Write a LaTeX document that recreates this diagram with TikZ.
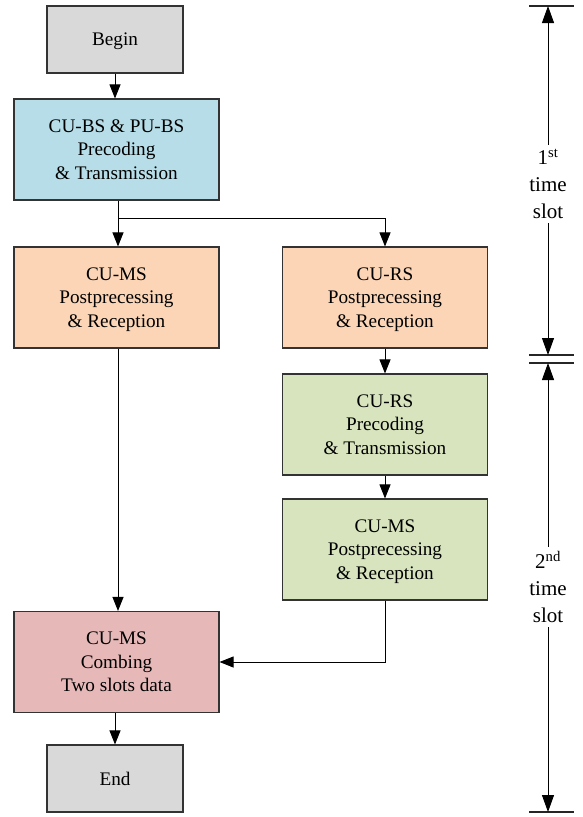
\documentclass[tikz,border=0pt]{standalone}
\usepackage{fontspec}
\setmainfont{Liberation Serif}
\usetikzlibrary{arrows.meta}
\definecolor{cgray}{RGB}{217,217,217}
\definecolor{cblue}{RGB}{183,222,232}
\definecolor{corange}{RGB}{251,213,181}
\definecolor{cgreen}{RGB}{215,228,189}
\definecolor{cpink}{RGB}{230,185,184}
\begin{document}
\begin{tikzpicture}[x=1pt,y=-1pt,
  box/.style={draw=black!80, line width=1.1pt, minimum width=205pt, minimum height=101pt,
    align=center, font=\fontsize{19.2}{23.5}\selectfont, inner sep=0pt, text depth=-3pt},
  small/.style={box, minimum width=136pt, minimum height=67pt},
  arr/.style={-{Triangle[length=14pt,width=11pt]}, line width=0.9pt},
  tarr/.style={-{Triangle[length=17pt,width=12pt]}, line width=1pt},
  ln/.style={line width=0.9pt},
  bar/.style={line width=1.2pt, draw=black!85},
  tlabel/.style={align=center, font=\fontsize{21}{27}\selectfont, inner sep=4pt}
]
\useasboundingbox (0,0) rectangle (582,817);

\node[small, fill=cgray] (begin) at (115,39.5) {Begin};
\node[box, fill=cblue] (bs) at (116.5,149.5) {CU-BS \& PU-BS\\Precoding\\\& Transmission};
\node[box, fill=corange] (ms1) at (116.5,297.5) {CU-MS\\Postprecessing\\\& Reception};
\node[box, fill=corange] (rs1) at (385,297.5) {CU-RS\\Postprecessing\\\& Reception};
\node[box, fill=cgreen] (rs2) at (385,424.5) {CU-RS\\Precoding\\\& Transmission};
\node[box, fill=cgreen] (ms2) at (385,549.5) {CU-MS\\Postprecessing\\\& Reception};
\node[box, fill=cpink] (comb) at (116.5,662) {CU-MS\\Combing\\Two slots data};
\node[small, fill=cgray] (end) at (115,778.5) {End};

\draw[arr] (begin.south) -- (begin.south |- bs.north);
\coordinate (br) at (118,218);
\draw[ln] (bs.south -| br) -- (br);
\draw[arr] (br) -- (br |- ms1.north);
\draw[arr] (br) -| (rs1.north);
\draw[arr] (ms1.south -| br) -- (br |- comb.north);
\draw[arr] (rs1.south) -- (rs2.north);
\draw[arr] (rs2.south) -- (ms2.north);
\draw[arr] (ms2.south) |- (comb.east);
\draw[arr] (comb.south -| end) -- (end.north);

% time slots
\coordinate (top) at (548,6);
\coordinate (midA) at (548,355);
\coordinate (midB) at (548,363);
\coordinate (bot) at (548,812);
\draw[bar] ([xshift=-19pt]top) -- ([xshift=26pt]top);
\draw[bar] ([xshift=-19pt]midA) -- ([xshift=26pt]midA);
\draw[bar] ([xshift=-19pt]midB) -- ([xshift=26pt]midB);
\draw[bar] ([xshift=-19pt]bot) -- ([xshift=26pt]bot);

\node[tlabel] (t1) at (548,184) {1\textsuperscript{st}\\time\\slot};
\node[tlabel] (t2) at (548,587) {2\textsuperscript{nd}\\time\\slot};
\draw[tarr] (t1.north) -- (top);
\draw[tarr] (t1.south) -- (midA);
\draw[tarr] (t2.north) -- (midB);
\draw[tarr] (t2.south) -- (bot);
\end{tikzpicture}
\end{document}
